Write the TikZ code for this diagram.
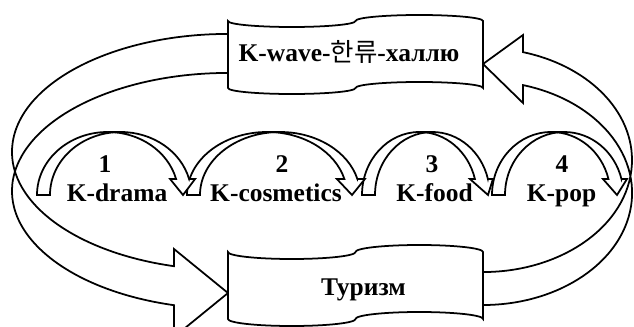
\documentclass[tikz,border=0pt]{standalone}
\usepackage{fontspec}
\setmainfont{Liberation Serif}
\newfontfamily\krfont{Noto Sans CJK KR}

% banner shaped like a punched tape: left, right, top, bottom, wave depth
\newcommand{\tape}[5]{%
  \pgfmathsetmacro{\tapr}{(#2-#1)/4}
  \draw[block] (#1,#3) arc[start angle=180, end angle=0, x radius=\tapr, y radius=#5]
    arc[start angle=180, end angle=360, x radius=\tapr, y radius=#5]
    -- (#2,#4) arc[start angle=360, end angle=180, x radius=\tapr, y radius=#5]
    arc[start angle=0, end angle=180, x radius=\tapr, y radius=#5] -- cycle;
}

% curved step arrow: foot x, radius, head width, tip x
\newcommand{\karrow}[4]{%
  \pgfmathsetmacro{\ca}{#1+#2}
  \pgfmathsetmacro{\cb}{#1+#2+13}
  \pgfmathsetmacro{\xf}{\ca+#2*0.9672}
  \pgfmathsetmacro{\dh}{(#3-13)/2}
  \draw[block] (#1,195) arc[start angle=180, end angle=270, x radius=#2, y radius=63]
    -- (\cb,132) arc[start angle=270, end angle=180, x radius=#2, y radius=63] -- cycle;
  \draw[block] (#4,195) -- (\xf-\dh,179) -- (\xf,179)
    arc[start angle=-14.71, end angle=-90, x radius=#2, y radius=63]
    -- (\cb,132) arc[start angle=-90, end angle=-14.71, x radius=#2, y radius=63]
    -- (\xf+13,179) -- (\xf+13+\dh,179) -- cycle;
}

\begin{document}
\begin{tikzpicture}[x=0.02cm, y=-0.02cm,
  block/.style={draw=black, line width=1pt, fill=white},
  lbl/.style={font=\bfseries\fontsize{14.5}{17}\selectfont, inner sep=0pt, anchor=base},
]
\useasboundingbox (0,0) rectangle (634,327);
\clip (0,0) rectangle (634,327);

% wave -> tourism
\draw[block, fill=none] (246.8,34.4)
  arc[start angle=275, end angle=104.48, x radius=216, y radius=118]
  -- (174,249) -- (228,293) -- (174,337) -- (174,305.2)
  arc[start angle=104.48, end angle=275, x radius=216, y radius=118];
% tourism -> wave
\draw[block, fill=none] (470,271.6)
  arc[start angle=95, end angle=-74.45, x radius=149, y radius=112]
  -- (523,35) -- (483,64) -- (523,103) -- (523,85.1)
  arc[start angle=-74.45, end angle=95, x radius=149, y radius=112];

\tape{228}{483}{21}{88}{6}
\tape{228}{483}{252}{319}{7}

\karrow{492}{59.2}{24}{617}
\karrow{362}{57.4}{23}{488}
\karrow{187}{80}{28}{352}
\karrow{37}{70.7}{25}{183}

\node[lbl] (wave) at (349,62) {K-wave-{\krfont\mdseries 한류}-халлю};
\node[lbl] (tour) at (363.5,295) {Туризм};

\node[lbl] (n1) at (105,173) {1};
\node[lbl] (n2) at (282,173) {2};
\node[lbl] (n3) at (432,173) {3};
\node[lbl] (n4) at (562,173) {4};
\node[lbl] (drama) at (117,201.5) {K-drama};
\node[lbl] (cosm) at (276,201.5) {K-cosmetics};
\node[lbl] (food) at (434.5,201.5) {K-food};
\node[lbl] (kpop) at (561.5,201.5) {K-pop};
\end{tikzpicture}
\end{document}
